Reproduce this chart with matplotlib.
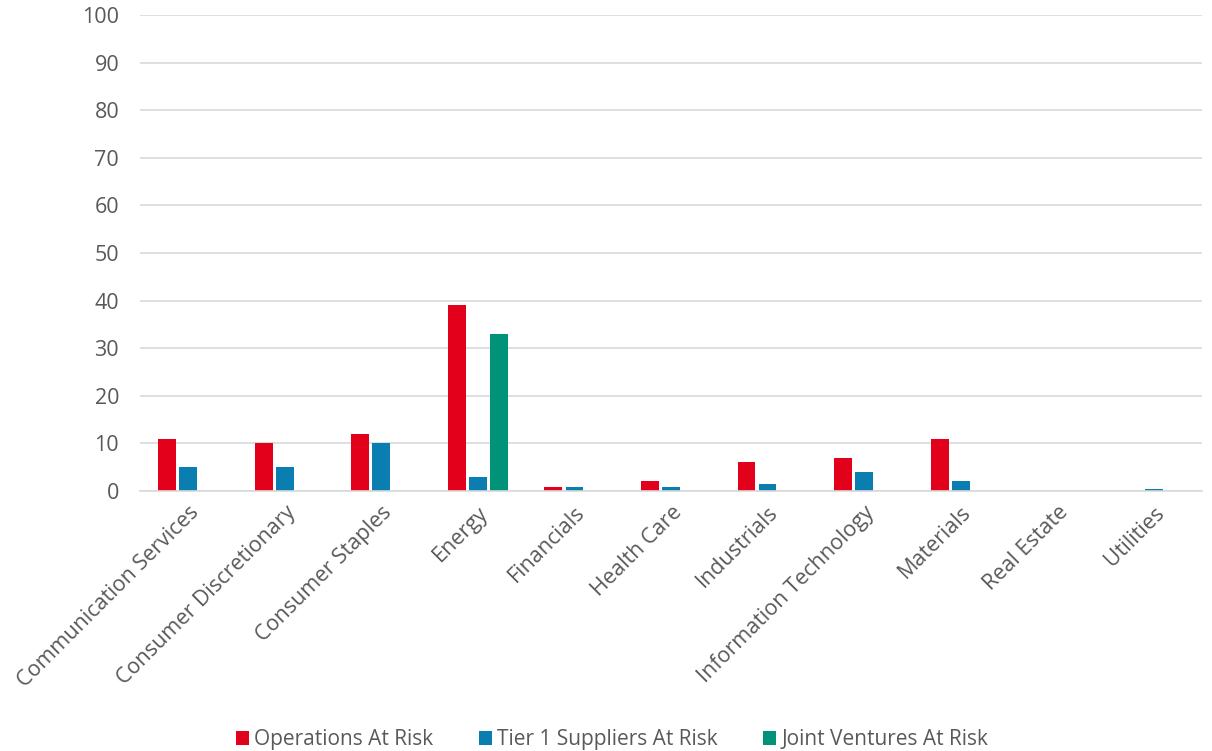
import matplotlib.pyplot as plt
import numpy as np

# Sector exposure chart: counts at risk per GICS sector

sectors = [
    "Communication Services",
    "Consumer Discretionary",
    "Consumer Staples",
    "Energy",
    "Financials",
    "Health Care",
    "Industrials",
    "Information Technology",
    "Materials",
    "Real Estate",
    "Utilities",
]
operations = [11, 10, 12, 39, 0.8, 2, 6, 7, 11, 0, 0]
tier1_suppliers = [5, 5, 10, 3, 0.8, 0.8, 1.5, 4, 2, 0, 0.4]
joint_ventures = [0, 0, 0, 33, 0, 0, 0, 0, 0, 0, 0]


def main():
    plt.rcParams["font.family"] = ["Open Sans", "DejaVu Sans"]
    grey = "#595959"

    fig = plt.figure(figsize=(12.12, 7.51), dpi=100)
    ax = fig.add_axes([140 / 1212, 1 - 491 / 751, 1062 / 1212, 476 / 751])

    x = np.arange(len(sectors))
    step = 0.218
    width = 0.185
    ax.bar(x - step, operations, width, color="#E3001B", label="Operations At Risk")
    ax.bar(x, tier1_suppliers, width, color="#0A7DB1", label="Tier 1 Suppliers At Risk")
    ax.bar(x + step, joint_ventures, width, color="#00937A", label="Joint Ventures At Risk")

    ax.set_xlim(-0.5, len(sectors) - 0.5)
    ax.set_ylim(0, 100)
    ax.set_yticks(range(0, 101, 10))
    ax.yaxis.grid(True, color="#D9D9D9", linewidth=1.2)
    ax.set_axisbelow(True)
    for side in ["left", "right", "top"]:
        ax.spines[side].set_visible(False)
    ax.spines["bottom"].set_color("#D9D9D9")
    ax.spines["bottom"].set_linewidth(1.2)

    ax.set_xticks(x)
    ax.set_xticklabels(sectors, rotation=45, ha="right", rotation_mode="anchor")
    ax.tick_params(axis="both", length=0, labelsize=15.5, colors=grey)
    ax.tick_params(axis="y", pad=15)
    ax.tick_params(axis="x", pad=8)

    fig.legend(
        loc="lower center",
        bbox_to_anchor=(0.505, -0.024),
        ncol=3,
        frameon=False,
        fontsize=15,
        labelcolor=grey,
        handlelength=0.62,
        handleheight=0.62,
        handletextpad=0.25,
        columnspacing=2.2,
    )

    fig.savefig("out.png", dpi=100)


if __name__ == "__main__":
    main()
